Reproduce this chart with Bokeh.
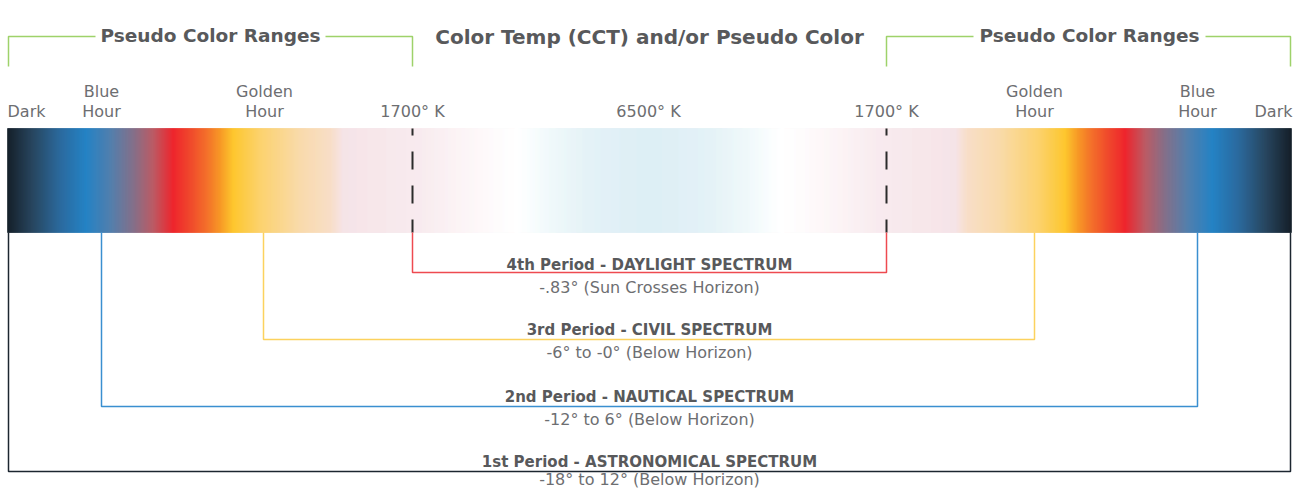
import numpy as np
from bokeh.plotting import figure
from bokeh.models import Range1d
from bokeh.embed import file_html
from bokeh.resources import INLINE
from bokeh.core.properties import value

# ---------------- data ----------------
# gradient colour stops for the left half of the bar (x in chart units); mirrored about the centre
grad_pos = [7, 33, 60, 86, 110, 133, 153, 173, 187, 207, 220, 233, 260, 300, 330, 343, 420, 480, 517, 553, 590, 649]
grad_col = ["#0b1620", "#1f3f5a", "#22649a", "#1b7dc2", "#4a7aaa", "#7e6a85", "#b8545e", "#ed1c24",
            "#ef3a24", "#f36b21", "#f7941d", "#fdc425", "#fbd068", "#f9d9a8", "#f8dcc4", "#f5e2e6",
            "#f8eaee", "#fdf8f9", "#ffffff", "#eef8fa", "#e2f1f6", "#dbeef5"]
bar_left, bar_right, bar_top, bar_bottom, bar_center = 7, 1291, 128, 232, 649

# top labels above the bar (two lines)
top_line1 = ["", "Blue", "Golden", "", "", "", "Golden", "Blue", ""]
top_line2 = ["Dark", "Hour", "Hour", "1700° K", "6500° K", "1700° K", "Hour", "Hour", "Dark"]
top_label_x = [26, 101, 264, 412, 648, 886, 1034, 1197, 1273]

# CCT boundary markers (dashed)
cct_x = [412, 886]

# periods (brackets below the bar)
period_titles = ["4th Period - DAYLIGHT SPECTRUM", "3rd Period - CIVIL SPECTRUM",
                 "2nd Period - NAUTICAL SPECTRUM", "1st Period - ASTRONOMICAL SPECTRUM"]
period_subs = ["-.83° (Sun Crosses Horizon)", "-6° to -0° (Below Horizon)",
               "-12° to 6° (Below Horizon)", "-18° to 12° (Below Horizon)"]
period_left = [412, 263, 101, 8]
period_right = [886, 1034, 1197, 1290]
period_level = [272, 339, 406, 471]
period_title_y = [264.5, 329.5, 396, 461.5]
period_sub_y = [287, 351.5, 418.5, 479]
period_colors = ["#ee4a50", "#fcd25e", "#3a8fd0", "#1c2630"]

# section headings
side_headings = ["Pseudo Color Ranges", "Pseudo Color Ranges"]
side_heading_x = [210, 1089]
center_heading = ["Color Temp (CCT) and/or Pseudo Color"]
center_heading_x = [649]
green_left = [8, 886]
green_right = [412, 1290]
green_gap_l = [95, 973]
green_gap_r = [325, 1205]
green_y, green_drop = 36, 66

FONT = "DejaVu Sans"

# ---------------- figure ----------------
p = figure(width=1294, height=488, x_range=Range1d(0, 1294), y_range=Range1d(488, 0),
           output_backend="svg", toolbar_location=None, min_border=0)
p.axis.visible = False
p.grid.visible = False
p.outline_line_color = None
p.background_fill_color = "white"
p.border_fill_color = "white"

# gradient bar (colour per column, interpolated from the stops)
def hex2rgb(h):
    return [int(h[i:i + 2], 16) for i in (1, 3, 5)]

stops_rgb = np.array([hex2rgb(c) for c in grad_col], dtype=float)
cols_x = np.arange(bar_left, bar_right, 1.0)
mid = cols_x + 0.5
mirrored = np.where(mid > bar_center, 2 * bar_center - mid, mid)
rgb = np.stack([np.interp(mirrored, grad_pos, stops_rgb[:, k]) for k in range(3)], axis=1)
colors = ["#%02x%02x%02x" % tuple(int(round(v)) for v in row) for row in rgb]
p.quad(left=cols_x, right=cols_x + 1.0, top=bar_top, bottom=bar_bottom,
       fill_color=colors, line_color=colors, line_width=0.6)

# dashed CCT markers
for cx in cct_x:
    p.line([cx, cx], [bar_top, bar_bottom], line_color="#2b2b2b", line_width=2,
           line_dash="18 16", line_dash_offset=11)

# period brackets
xs = [[l, l, r, r] for l, r in zip(period_left, period_right)]
ys = [[bar_bottom, lv, lv, bar_bottom] for lv in period_level]
p.multi_line(xs=xs, ys=ys, line_color=period_colors, line_width=1.5)

# period texts
cx_text = [649] * 4
p.text(x=cx_text, y=period_title_y, text=period_titles,
       text_font=value(FONT), text_font_style="bold", text_font_size="15px",
       text_color="#58595b", text_align="center", text_baseline="middle")
p.text(x=cx_text, y=period_sub_y, text=period_subs,
       text_font=value(FONT), text_font_size="16px",
       text_color="#6d6e71", text_align="center", text_baseline="middle")

# green heading brackets
gxs, gys = [], []
for l, r, gl, gr in zip(green_left, green_right, green_gap_l, green_gap_r):
    gxs += [[l, l, gl], [gr, r, r]]
    gys += [[green_drop, green_y, green_y], [green_y, green_y, green_drop]]
p.multi_line(xs=gxs, ys=gys, line_color="#9ed26a", line_width=1.5)

# headings
p.text(x=side_heading_x, y=[35, 35], text=side_headings, text_font=value(FONT),
       text_font_style="bold", text_font_size="18.5px", text_color="#58595b",
       text_align="center", text_baseline="middle")
p.text(x=center_heading_x, y=[36], text=center_heading, text_font=value(FONT),
       text_font_style="bold", text_font_size="20px", text_color="#58595b",
       text_align="center", text_baseline="middle")

# top labels
p.text(x=top_label_x, y=[91] * len(top_label_x), text=top_line1, text_font=value(FONT),
       text_font_size="16px", text_color="#6d6e71", text_align="center",
       text_baseline="middle")
p.text(x=top_label_x, y=[110.5] * len(top_label_x), text=top_line2, text_font=value(FONT),
       text_font_size="16px", text_color="#6d6e71", text_align="center",
       text_baseline="middle")

open("out.html", "w").write(file_html(p, INLINE))
